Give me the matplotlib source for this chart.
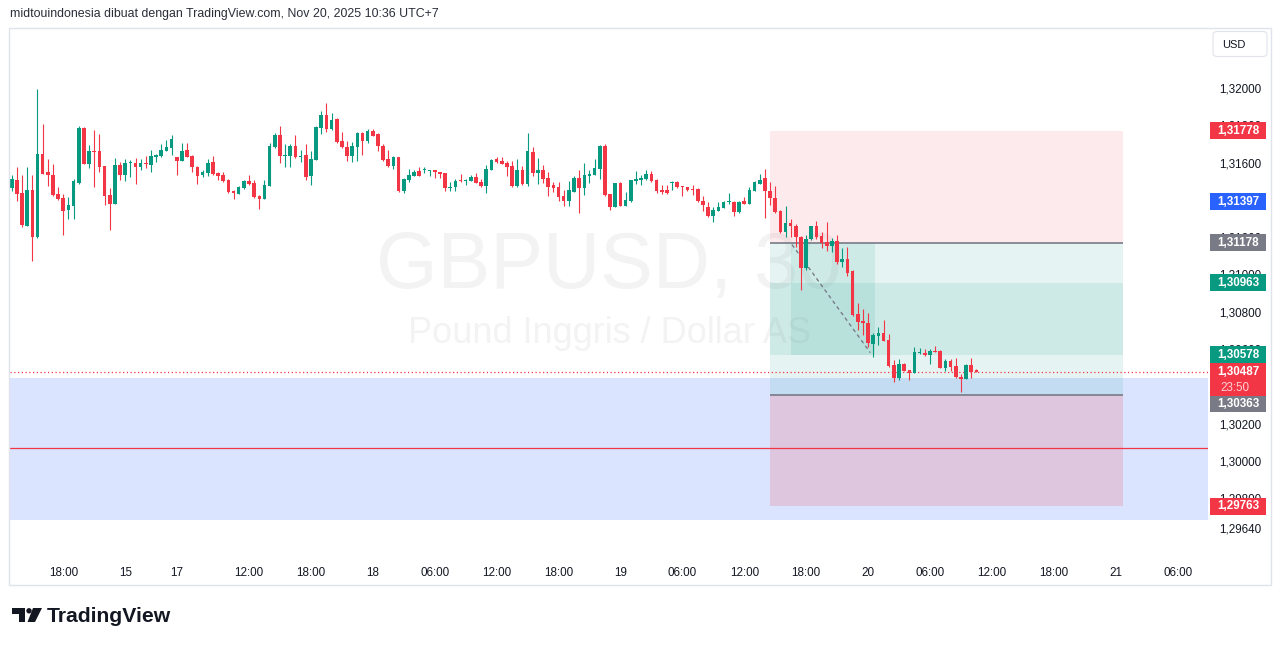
import matplotlib
matplotlib.use("Agg")
import matplotlib.pyplot as plt
from matplotlib.patches import Rectangle, FancyBboxPatch, Polygon, Circle
from matplotlib.transforms import ScaledTranslation
import numpy as np

UP = "#089981"
DOWN = "#f23645"
GREY = "#787b86"
BLUE = "#2962ff"
TEXT = "#131722"

# GBPUSD 30m candles, Nov 14 12:00 .. Nov 20 10:30 (UTC+7)
opens = [
    1.31471, 1.31514, 1.31445, 1.31268, 1.31461, 1.31208, 1.31654, 1.31557, 1.31541, 1.31440,
    1.31418, 1.31354, 1.31375, 1.31498, 1.31793, 1.31601, 1.31670, 1.31670, 1.31590, 1.31434,
    1.31386, 1.31595, 1.31541, 1.31606, 1.31606, 1.31584, 1.31606, 1.31595, 1.31638, 1.31643,
    1.31670, 1.31686, 1.31638, 1.31617, 1.31675, 1.31643, 1.31584, 1.31541, 1.31552, 1.31611,
    1.31552, 1.31541, 1.31514, 1.31456, 1.31440, 1.31471, 1.31509, 1.31498, 1.31429, 1.31413,
    1.31482, 1.31691, 1.31756, 1.31643, 1.31643, 1.31697, 1.31638, 1.31648, 1.31536, 1.31622,
    1.31793, 1.31863, 1.31788, 1.31842, 1.31724, 1.31691, 1.31643, 1.31691, 1.31767, 1.31724,
    1.31777, 1.31762, 1.31697, 1.31627, 1.31590, 1.31638, 1.31456, 1.31514, 1.31536, 1.31563,
    1.31568, 1.31563, 1.31568, 1.31557, 1.31552, 1.31471, 1.31476, 1.31514, 1.31509, 1.31509,
    1.31530, 1.31504, 1.31482, 1.31568, 1.31627, 1.31617, 1.31606, 1.31590, 1.31482, 1.31568,
    1.31493, 1.31664, 1.31552, 1.31568, 1.31525, 1.31487, 1.31476, 1.31429, 1.31402, 1.31450,
    1.31525, 1.31471, 1.31536, 1.31541, 1.31573, 1.31697, 1.31440, 1.31370, 1.31498, 1.31375,
    1.31402, 1.31509, 1.31514, 1.31520, 1.31547, 1.31514, 1.31461, 1.31461, 1.31498, 1.31504,
    1.31482, 1.31476, 1.31466, 1.31466, 1.31402, 1.31370, 1.31321, 1.31349, 1.31364, 1.31396,
    1.31396, 1.31343, 1.31402, 1.31386, 1.31456, 1.31493, 1.31525, 1.31456, 1.31418, 1.31349,
    1.31235, 1.31284, 1.31268, 1.31208, 1.31043, 1.31198, 1.31268, 1.31214, 1.31182, 1.31161,
    1.31187, 1.31075, 1.31091, 1.31027, 1.30796, 1.30757, 1.30747, 1.30635, 1.30678, 1.30693,
    1.30656, 1.30522, 1.30452, 1.30527, 1.30495, 1.30479, 1.30586, 1.30586, 1.30576, 1.30597,
    1.30597, 1.30506, 1.30543, 1.30516, 1.30457, 1.30447, 1.30522, 1.30495,
]
highs = [
    1.31541, 1.31584, 1.31541, 1.31584, 1.31541, 1.32003, 1.31815, 1.31627, 1.31601, 1.31476,
    1.31440, 1.31423, 1.31520, 1.31804, 1.31798, 1.31702, 1.31783, 1.31762, 1.31592, 1.31471,
    1.31632, 1.31611, 1.31627, 1.31622, 1.31632, 1.31627, 1.31643, 1.31675, 1.31654, 1.31708,
    1.31729, 1.31756, 1.31640, 1.31713, 1.31713, 1.31648, 1.31590, 1.31568, 1.31627, 1.31643,
    1.31557, 1.31557, 1.31520, 1.31461, 1.31482, 1.31514, 1.31541, 1.31514, 1.31434, 1.31514,
    1.31713, 1.31767, 1.31804, 1.31708, 1.31708, 1.31756, 1.31675, 1.31708, 1.31670, 1.31804,
    1.31885, 1.31928, 1.31874, 1.31847, 1.31772, 1.31724, 1.31719, 1.31772, 1.31772, 1.31788,
    1.31788, 1.31764, 1.31708, 1.31675, 1.31643, 1.31640, 1.31525, 1.31573, 1.31568, 1.31584,
    1.31584, 1.31570, 1.31570, 1.31560, 1.31554, 1.31504, 1.31520, 1.31547, 1.31520, 1.31541,
    1.31552, 1.31520, 1.31595, 1.31627, 1.31638, 1.31638, 1.31617, 1.31617, 1.31627, 1.31590,
    1.31767, 1.31691, 1.31632, 1.31595, 1.31557, 1.31504, 1.31504, 1.31461, 1.31509, 1.31536,
    1.31568, 1.31606, 1.31568, 1.31627, 1.31702, 1.31708, 1.31442, 1.31500, 1.31504, 1.31450,
    1.31516, 1.31563, 1.31541, 1.31568, 1.31563, 1.31520, 1.31487, 1.31487, 1.31509, 1.31509,
    1.31484, 1.31478, 1.31487, 1.31471, 1.31429, 1.31396, 1.31370, 1.31396, 1.31402, 1.31445,
    1.31402, 1.31402, 1.31423, 1.31476, 1.31509, 1.31547, 1.31573, 1.31504, 1.31482, 1.31354,
    1.31375, 1.31305, 1.31279, 1.31214, 1.31219, 1.31270, 1.31295, 1.31235, 1.31289, 1.31203,
    1.31219, 1.31150, 1.31155, 1.31032, 1.30855, 1.30822, 1.30801, 1.30693, 1.30726, 1.30763,
    1.30688, 1.30549, 1.30554, 1.30532, 1.30497, 1.30618, 1.30613, 1.30608, 1.30608, 1.30624,
    1.30602, 1.30554, 1.30554, 1.30559, 1.30473, 1.30527, 1.30559, 1.30500,
]
lows = [
    1.31456, 1.31402, 1.31262, 1.31265, 1.31080, 1.31203, 1.31547, 1.31482, 1.31429, 1.31407,
    1.31219, 1.31305, 1.31305, 1.31495, 1.31598, 1.31579, 1.31476, 1.31557, 1.31380, 1.31246,
    1.31384, 1.31514, 1.31509, 1.31530, 1.31493, 1.31568, 1.31579, 1.31557, 1.31611, 1.31640,
    1.31668, 1.31648, 1.31541, 1.31615, 1.31636, 1.31557, 1.31493, 1.31530, 1.31536, 1.31541,
    1.31514, 1.31506, 1.31445, 1.31413, 1.31438, 1.31468, 1.31490, 1.31420, 1.31359, 1.31410,
    1.31480, 1.31686, 1.31606, 1.31584, 1.31584, 1.31632, 1.31611, 1.31514, 1.31487, 1.31620,
    1.31762, 1.31772, 1.31783, 1.31713, 1.31688, 1.31617, 1.31611, 1.31617, 1.31648, 1.31713,
    1.31748, 1.31670, 1.31617, 1.31584, 1.31573, 1.31450, 1.31445, 1.31504, 1.31534, 1.31534,
    1.31552, 1.31536, 1.31525, 1.31525, 1.31456, 1.31456, 1.31456, 1.31504, 1.31487, 1.31507,
    1.31496, 1.31476, 1.31445, 1.31566, 1.31606, 1.31598, 1.31536, 1.31476, 1.31476, 1.31490,
    1.31482, 1.31536, 1.31493, 1.31498, 1.31429, 1.31450, 1.31402, 1.31375, 1.31375, 1.31448,
    1.31338, 1.31434, 1.31498, 1.31539, 1.31520, 1.31429, 1.31354, 1.31368, 1.31373, 1.31373,
    1.31396, 1.31493, 1.31487, 1.31514, 1.31504, 1.31445, 1.31440, 1.31440, 1.31461, 1.31471,
    1.31429, 1.31456, 1.31434, 1.31396, 1.31349, 1.31316, 1.31289, 1.31347, 1.31362, 1.31386,
    1.31321, 1.31338, 1.31384, 1.31384, 1.31454, 1.31491, 1.31311, 1.31380, 1.31338, 1.31230,
    1.31211, 1.31208, 1.31155, 1.30924, 1.31032, 1.31193, 1.31198, 1.31150, 1.31134, 1.31128,
    1.31065, 1.31048, 1.31000, 1.30785, 1.30710, 1.30683, 1.30618, 1.30565, 1.30629, 1.30651,
    1.30511, 1.30430, 1.30441, 1.30490, 1.30441, 1.30477, 1.30581, 1.30570, 1.30527, 1.30590,
    1.30506, 1.30490, 1.30490, 1.30452, 1.30377, 1.30445, 1.30452, 1.30484,
]
closes = [
    1.31520, 1.31440, 1.31273, 1.31461, 1.31208, 1.31654, 1.31547, 1.31541, 1.31434, 1.31413,
    1.31349, 1.31380, 1.31509, 1.31793, 1.31601, 1.31670, 1.31664, 1.31584, 1.31429, 1.31386,
    1.31595, 1.31541, 1.31606, 1.31611, 1.31584, 1.31606, 1.31601, 1.31643, 1.31648, 1.31675,
    1.31691, 1.31735, 1.31617, 1.31670, 1.31638, 1.31584, 1.31536, 1.31557, 1.31606, 1.31547,
    1.31536, 1.31509, 1.31450, 1.31445, 1.31476, 1.31509, 1.31493, 1.31423, 1.31413, 1.31487,
    1.31697, 1.31756, 1.31643, 1.31648, 1.31697, 1.31638, 1.31643, 1.31530, 1.31627, 1.31799,
    1.31863, 1.31788, 1.31836, 1.31719, 1.31691, 1.31643, 1.31697, 1.31767, 1.31724, 1.31777,
    1.31751, 1.31697, 1.31622, 1.31590, 1.31638, 1.31456, 1.31520, 1.31541, 1.31557, 1.31536,
    1.31573, 1.31568, 1.31557, 1.31547, 1.31471, 1.31476, 1.31509, 1.31509, 1.31514, 1.31530,
    1.31498, 1.31482, 1.31573, 1.31622, 1.31611, 1.31601, 1.31584, 1.31482, 1.31568, 1.31493,
    1.31670, 1.31552, 1.31568, 1.31520, 1.31476, 1.31471, 1.31423, 1.31402, 1.31461, 1.31525,
    1.31471, 1.31541, 1.31547, 1.31579, 1.31697, 1.31434, 1.31370, 1.31498, 1.31375, 1.31407,
    1.31514, 1.31520, 1.31525, 1.31547, 1.31509, 1.31456, 1.31450, 1.31445, 1.31504, 1.31476,
    1.31476, 1.31461, 1.31461, 1.31402, 1.31380, 1.31321, 1.31354, 1.31370, 1.31396, 1.31402,
    1.31343, 1.31396, 1.31386, 1.31461, 1.31504, 1.31514, 1.31456, 1.31418, 1.31343, 1.31235,
    1.31284, 1.31268, 1.31208, 1.31043, 1.31198, 1.31268, 1.31208, 1.31177, 1.31161, 1.31187,
    1.31075, 1.31091, 1.31016, 1.30790, 1.30752, 1.30747, 1.30640, 1.30683, 1.30693, 1.30651,
    1.30516, 1.30452, 1.30527, 1.30490, 1.30479, 1.30592, 1.30592, 1.30576, 1.30597, 1.30592,
    1.30506, 1.30543, 1.30511, 1.30457, 1.30447, 1.30522, 1.30484, 1.30487,
]

# time axis (bar index of each label)
time_ticks = [10, 22, 32, 46, 58, 70, 82, 94, 106, 118, 130, 142, 154, 166, 178, 190, 202, 214, 226]
time_labels = ["18:00", "15", "17", "12:00", "18:00", "18", "06:00", "12:00", "18:00", "19",
               "06:00", "12:00", "18:00", "20", "06:00", "12:00", "18:00", "21", "06:00"]
price_ticks = [1.320, 1.318, 1.316, 1.314, 1.312, 1.310, 1.308, 1.306, 1.304, 1.302, 1.300, 1.298, 1.2964]

last_price = 1.30487
countdown = "23:50"

# drawings
pos_start, pos_end = 147, 215.4
stop_price, entry_price, target_price = 1.31778, 1.31178, 1.30363
lower_stop = 1.29763
box_top, box_bottom = 1.30963, 1.30578
fill_start, fill_end = 151, 167.3
blue_zone = (1.29690, 1.30454)
red_level = 1.30075
blue_mark = 1.31397

axis_tags = [
    (stop_price, DOWN, 0),
    (blue_mark, BLUE, 0),
    (entry_price, GREY, 0),
    (box_top, UP, 0),
    (box_bottom, UP, 0),
    (target_price, GREY, 9),
    (lower_stop, DOWN, 0),
]

W, H = 1281, 646
fig = plt.figure(figsize=(W / 100, H / 100), dpi=100)
fig.patch.set_facecolor("white")


def frame(x0, y0, x1, y1):
    return [x0 / W, 1 - y1 / H, (x1 - x0) / W, (y1 - y0) / H]


ax = fig.add_axes(frame(10, 27, 1208, 555))
ax_r = fig.add_axes(frame(1208, 27, 1271, 555), sharey=ax)
ymin, ymax = 1.295026, 1.323353
ax.set_xlim(-0.33, 231.9)
ax.set_ylim(ymin, ymax)
dpp = (ymax - ymin) / 528  # price per pixel

for s in ax.spines.values():
    s.set_visible(False)
ax.set_yticks([])
ax.set_xticks(time_ticks)
ax.set_xticklabels(time_labels, fontsize=8.4, color=TEXT, family="Liberation Sans")
ax.tick_params(axis="x", length=0, pad=8.5)

# candles
o = np.array(opens)
h = np.array(highs)
l = np.array(lows)
c = np.array(closes)
idx = np.arange(len(o))
colors = np.where(c >= o, UP, DOWN)
ax.vlines(idx, l, h, colors=colors, lw=0.8, zorder=4)
body_low = np.minimum(o, c)
body_h = np.maximum(np.abs(c - o), dpp)
ax.bar(idx, body_h, width=0.7, bottom=body_low, color=colors, lw=0, zorder=5)

# watermark
ax.text(0.5, 0.545, "GBPUSD, 30", transform=ax.transAxes, ha="center", va="center",
        fontsize=57, color="#f3f3f4", family="Liberation Sans", zorder=0.5)
ax.text(0.5, 0.42, "Pound Inggris / Dollar AS", transform=ax.transAxes, ha="center", va="center",
        fontsize=26, color="#f3f3f4", family="Liberation Sans", zorder=0.5)

# zones
ax.axhspan(blue_zone[0], blue_zone[1], color=BLUE, alpha=0.17, lw=0, zorder=1)
width = pos_end - pos_start
ax.add_patch(Rectangle((pos_start, entry_price), width, stop_price - entry_price,
                       fc=DOWN, alpha=0.1, lw=0, zorder=1))
ax.add_patch(Rectangle((pos_start, target_price), width, entry_price - target_price,
                       fc=UP, alpha=0.1, lw=0, zorder=1))
ax.add_patch(Rectangle((pos_start, box_bottom), width, box_top - box_bottom,
                       fc=UP, alpha=0.1, lw=0, zorder=1))
ax.add_patch(Rectangle((fill_start, box_bottom), fill_end - fill_start, entry_price - box_bottom,
                       fc=UP, alpha=0.1, lw=0, zorder=1))
ax.add_patch(Rectangle((pos_start, lower_stop), width, target_price - lower_stop,
                       fc=DOWN, alpha=0.17, lw=0, zorder=1))
ax.hlines([entry_price, target_price], pos_start, pos_end, color=GREY, lw=1.2, zorder=2)
ax.axhline(red_level, color=DOWN, lw=0.9, zorder=2)
ax.axhline(last_price, color=DOWN, lw=0.9, ls=(0, (1, 2)), zorder=3)
ax.annotate("", xy=(fill_end - 0.6, box_bottom), xytext=(fill_start, entry_price),
            arrowprops=dict(arrowstyle="-", color=GREY, lw=1, ls=(0, (2, 3))), zorder=3)

# price scale
ax_r.axis("off")
tr = ax_r.get_yaxis_transform()
for p in price_ticks:
    ax_r.text(0.175, p, f"{p:.5f}".replace(".", ","), transform=tr, ha="left", va="center",
              fontsize=8.4, color=TEXT, family="Liberation Sans", zorder=1)


def tag(price, color, shift=0, lines=None):
    off = ScaledTranslation(0, -shift / 100, fig.dpi_scale_trans)
    t = tr + off
    hgt = 17 if lines is None else 33
    ax_r.add_patch(Rectangle((0.03, price - (hgt - 8.5) * dpp), 0.89, hgt * dpp,
                             transform=t, fc=color, lw=0, zorder=3, clip_on=False))
    ax_r.text(0.475, price, f"{price:.5f}".replace(".", ","), transform=t, ha="center",
              va="center", fontsize=8.4, color="white", weight="bold",
              family="Liberation Sans", zorder=4)
    if lines:
        ax_r.text(0.2, price - 16 * dpp, lines, transform=t, ha="left", va="center",
                  fontsize=8.4, color="#ffd0d5", family="Liberation Sans", zorder=4)


for p, col, sh in axis_tags:
    tag(p, col, sh)
tag(last_price, DOWN, 0, countdown)

# overlay: header, frame, USD button, logo
ov = fig.add_axes([0, 0, 1, 1])
ov.set_xlim(0, W)
ov.set_ylim(H, 0)
ov.axis("off")
ov.text(10, 14, "midtouindonesia dibuat dengan TradingView.com, Nov 20, 2025 10:36 UTC+7",
        ha="left", va="center", fontsize=8.9, color="#2a2e39", family="Liberation Sans")
ov.add_patch(Rectangle((8.5, 27.5), 1262, 557.5, fill=False, ec="#e0e3eb", lw=1))
ov.add_patch(FancyBboxPatch((1213, 31.5), 54, 25, boxstyle="round,pad=0,rounding_size=4",
                            fc="white", ec="#e0e3eb", lw=0.8))
ov.text(1222, 44.5, "USD", ha="left", va="center", fontsize=8, color=TEXT, family="Liberation Sans")

ov.add_patch(Polygon([(12, 608), (25, 608), (25, 622), (18.5, 622), (18.5, 613.5), (12, 613.5)],
                     closed=True, fc=TEXT, lw=0))
ov.add_patch(Circle((29, 610.8), 2.7, fc=TEXT, lw=0))
ov.add_patch(Polygon([(33, 608), (42, 608), (35, 622), (27.5, 622)], closed=True, fc=TEXT, lw=0))
ov.text(47, 616, "TradingView", ha="left", va="center", fontsize=15.2, weight="bold",
        color=TEXT, family="Liberation Sans")

fig.savefig("out.png", dpi=100)
